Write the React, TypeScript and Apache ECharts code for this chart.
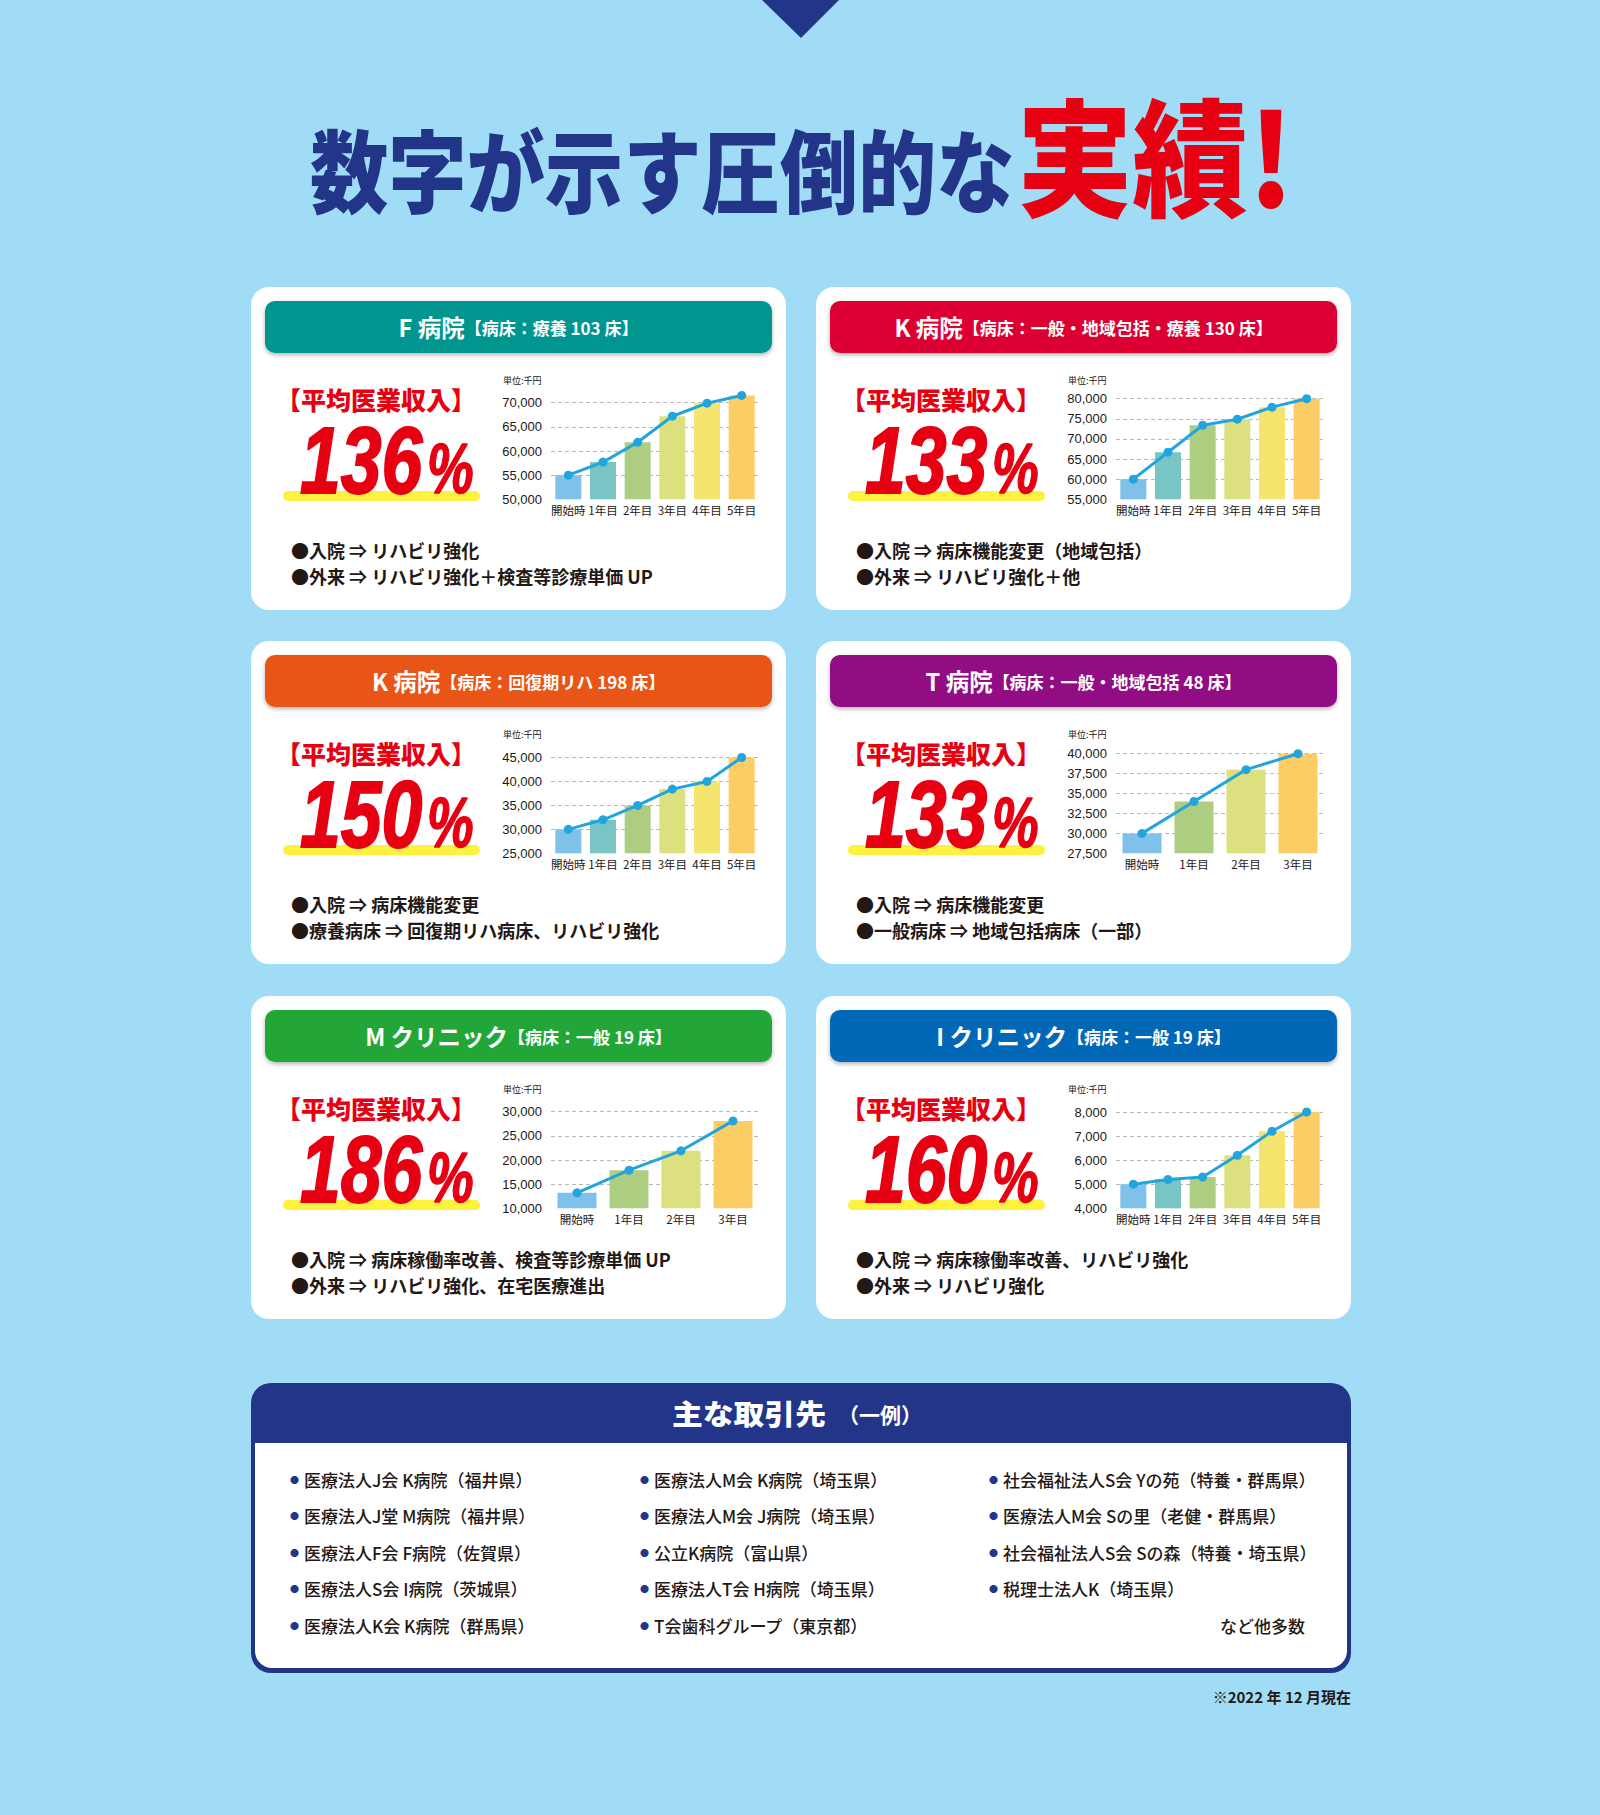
import React, { useEffect, useRef } from "react";
import * as echarts from "echarts";

// ---------- DATA ----------
const categories6 = ["開始時", "1年目", "2年目", "3年目", "4年目", "5年目"];
const categories4 = ["開始時", "1年目", "2年目", "3年目"];

const fHospitalRevenue = [55000, 57700, 61800, 67200, 69900, 71500];
const kHospitalRevenue = [60000, 66700, 73400, 74900, 77900, 80000];
const kRehabRevenue = [30000, 32000, 35000, 38400, 40000, 45000];
const tHospitalRevenue = [30000, 34000, 38000, 40000];
const mClinicRevenue = [13200, 17900, 21900, 28100];
const iClinicRevenue = [5000, 5200, 5300, 6200, 7200, 8000];

const yMins = [50000, 55000, 25000, 27500, 10000, 4000];
const yMaxs = [72000, 80000, 45000, 40000, 30000, 8000];
const yIntervals = [5000, 5000, 5000, 2500, 5000, 1000];

const hospitalNames = ["F 病院", "K 病院", "K 病院", "T 病院", "M クリニック", "I クリニック"];
const bedLabels = [
  "【病床：療養 103 床】",
  "【病床：一般・地域包括・療養 130 床】",
  "【病床：回復期リハ 198 床】",
  "【病床：一般・地域包括 48 床】",
  "【病床：一般 19 床】",
  "【病床：一般 19 床】",
];
const percentages = ["136", "133", "150", "133", "186", "160"];
const notes = [
  ["●入院 ⇒ リハビリ強化", "●外来 ⇒ リハビリ強化＋検査等診療単価 UP"],
  ["●入院 ⇒ 病床機能変更（地域包括）", "●外来 ⇒ リハビリ強化＋他"],
  ["●入院 ⇒ 病床機能変更", "●療養病床 ⇒ 回復期リハ病床、リハビリ強化"],
  ["●入院 ⇒ 病床機能変更", "●一般病床 ⇒ 地域包括病床（一部）"],
  ["●入院 ⇒ 病床稼働率改善、検査等診療単価 UP", "●外来 ⇒ リハビリ強化、在宅医療進出"],
  ["●入院 ⇒ 病床稼働率改善、リハビリ強化", "●外来 ⇒ リハビリ強化"],
];

const partnersCol1 = [
  "医療法人J会 K病院（福井県）",
  "医療法人J堂 M病院（福井県）",
  "医療法人F会 F病院（佐賀県）",
  "医療法人S会 I病院（茨城県）",
  "医療法人K会 K病院（群馬県）",
];
const partnersCol2 = [
  "医療法人M会 K病院（埼玉県）",
  "医療法人M会 J病院（埼玉県）",
  "公立K病院（富山県）",
  "医療法人T会 H病院（埼玉県）",
  "T会歯科グループ（東京都）",
];
const partnersCol3 = [
  "社会福祉法人S会 Yの苑（特養・群馬県）",
  "医療法人M会 Sの里（老健・群馬県）",
  "社会福祉法人S会 Sの森（特養・埼玉県）",
  "税理士法人K（埼玉県）",
];

// ---------- STYLE / LAYOUT ----------
const BG = "#A0DCF5";
const NAVY = "#233588";
const RED = "#E60012";
const DARK = "#231815";
const LINE = "#22A5DF";
const FONT_JP = '"Noto Sans CJK JP", "Noto Sans", sans-serif';
const FONT_NUM = '"Liberation Sans", Arial, sans-serif';

const headerColors = ["#00958F", "#DC0032", "#E95513", "#920783", "#22A637", "#0068B7"];
const barColors6 = ["#80C1EA", "#79C4C5", "#ADCE81", "#DCE07E", "#F3E56D", "#FCCD64"];
const barColors4 = ["#80C1EA", "#ADCE81", "#DCE07E", "#FCCD64"];

const seriesData = [
  fHospitalRevenue,
  kHospitalRevenue,
  kRehabRevenue,
  tHospitalRevenue,
  mClinicRevenue,
  iClinicRevenue,
];
const seriesCats = [categories6, categories6, categories6, categories4, categories4, categories6];

const cards = [
  { x: 251, y: 287 },
  { x: 816, y: 287 },
  { x: 251, y: 641 },
  { x: 816, y: 641 },
  { x: 251, y: 996 },
  { x: 816, y: 996 },
];
const CARD_W = 535;
const CARD_H = 323;
const topTickDy = [115.7, 111.7, 116.5, 112.7, 115.7, 116];
const BOTTOM_DY = 212.3;

function buildOption() {
  const grids: any[] = [];
  const xAxes: any[] = [];
  const yAxes: any[] = [];
  const series: any[] = [];
  const graphics: any[] = [];

  graphics.push({
    type: "polygon",
    z: 1,
    shape: { points: [[762, 0], [839, 0], [801, 38]] },
    style: { fill: NAVY },
  });
  graphics.push({
    type: "text",
    z: 1,
    x: 310,
    y: 167,
    scaleX: 0.87,
    style: {
      text: "数字が示す圧倒的な",
      fill: NAVY,
      fontSize: 90,
      fontWeight: 900,
      fontFamily: FONT_JP,
      align: "left",
      verticalAlign: "middle",
    },
  });
  graphics.push({
    type: "text",
    z: 1,
    x: 1017,
    y: 152,
    scaleX: 0.91,
    style: {
      text: "実績!",
      fill: RED,
      fontSize: 127,
      fontWeight: 900,
      fontFamily: FONT_JP,
      align: "left",
      verticalAlign: "middle",
    },
  });

  cards.forEach((c, i) => {
    const cats = seriesCats[i];
    const colors = cats.length === 6 ? barColors6 : barColors4;
    const min = yMins[i];
    const max = yMaxs[i];
    const interval = yIntervals[i];
    const topTick = Math.floor((max - min) / interval) * interval + min;
    const aligned = topTick === max;
    const bottomY = c.y + BOTTOM_DY;
    const pxPerUnit = (BOTTOM_DY - topTickDy[i]) / (topTick - min);
    const topY = bottomY - (max - min) * pxPerUnit;

    grids.push({ left: c.x + 300, width: 208, top: topY, height: bottomY - topY });
    xAxes.push({
      type: "category",
      gridIndex: i,
      data: cats,
      axisLine: { show: false },
      axisTick: { show: false },
      axisLabel: {
        interval: 0,
        fontSize: 11.5,
        color: DARK,
        margin: 5,
        fontFamily: FONT_JP,
      },
    });
    yAxes.push({
      type: "value",
      gridIndex: i,
      min,
      max,
      interval,
      axisLine: { show: false },
      axisTick: { show: false },
      axisLabel: {
        fontSize: 13,
        color: DARK,
        margin: 9,
        fontFamily: FONT_NUM,
        showMaxLabel: aligned,
        formatter: (v: number) => v.toLocaleString("en-US"),
      },
      splitLine: {
        show: true,
        showMinLine: false,
        showMaxLine: aligned,
        lineStyle: { type: [4, 3], color: "#B8B8B8", width: 1 },
      },
    });
    series.push({
      type: "bar",
      xAxisIndex: i,
      yAxisIndex: i,
      barWidth: "75%",
      data: seriesData[i].map((v, k) => ({ value: v, itemStyle: { color: colors[k] } })),
      z: 2,
    });
    series.push({
      type: "line",
      xAxisIndex: i,
      yAxisIndex: i,
      data: seriesData[i],
      symbol: "circle",
      symbolSize: 9,
      lineStyle: { color: LINE, width: 3 },
      itemStyle: { color: LINE },
      z: 3,
    });

    graphics.push({
      type: "rect",
      z: 0,
      shape: { x: c.x, y: c.y, width: CARD_W, height: CARD_H, r: 18 },
      style: { fill: "#FFFFFF" },
    });
    graphics.push({
      type: "rect",
      z: 1,
      shape: { x: c.x + 14, y: c.y + 14, width: 507, height: 52, r: 10 },
      style: {
        fill: headerColors[i],
        shadowBlur: 4,
        shadowOffsetY: 2,
        shadowColor: "rgba(0,0,0,0.3)",
      },
    });
    graphics.push({
      type: "text",
      z: 2,
      x: c.x + 267.5,
      y: c.y + 40,
      style: {
        text: `{a|${hospitalNames[i]}}{b|${bedLabels[i]}}`,
        align: "center",
        verticalAlign: "middle",
        rich: {
          a: { fontSize: 23.5, fontWeight: "bold", fill: "#FFFFFF", fontFamily: FONT_JP },
          b: { fontSize: 17, fontWeight: "bold", fill: "#FFFFFF", fontFamily: FONT_JP },
        },
      },
    });
    graphics.push({
      type: "text",
      z: 2,
      x: c.x + 25,
      y: c.y + 112,
      style: {
        text: "【平均医業収入】",
        fill: RED,
        fontSize: 25,
        fontWeight: 900,
        fontFamily: FONT_JP,
        align: "left",
        verticalAlign: "middle",
      },
    });
    graphics.push({
      type: "rect",
      z: 1,
      shape: { x: c.x + 32, y: c.y + 204, width: 197, height: 10, r: 5 },
      style: { fill: "#FFF23F" },
    });
    graphics.push({
      type: "text",
      z: 2,
      x: c.x + 49,
      y: c.y + 174,
      scaleX: 0.78,
      style: {
        text: percentages[i],
        fill: RED,
        stroke: RED,
        lineWidth: 2,
        fontSize: 94,
        fontWeight: "bold",
        fontStyle: "italic",
        fontFamily: FONT_NUM,
        align: "left",
        verticalAlign: "middle",
      },
    });
    graphics.push({
      type: "text",
      z: 2,
      x: c.x + 176,
      y: c.y + 181.5,
      scaleX: 0.75,
      style: {
        text: "%",
        fill: RED,
        stroke: RED,
        lineWidth: 1.5,
        fontSize: 70,
        fontWeight: "bold",
        fontStyle: "italic",
        fontFamily: FONT_NUM,
        align: "left",
        verticalAlign: "middle",
      },
    });
    graphics.push({
      type: "text",
      z: 2,
      x: c.x + 252,
      y: c.y + 93.5,
      style: {
        text: "単位:千円",
        fill: DARK,
        fontSize: 9,
        fontFamily: FONT_JP,
        align: "left",
        verticalAlign: "middle",
      },
    });
    notes[i].forEach((t, k) => {
      graphics.push({
        type: "text",
        z: 2,
        x: c.x + 40,
        y: c.y + 263 + k * 25.5,
        style: {
          text: t,
          fill: DARK,
          fontSize: 18,
          fontWeight: "bold",
          fontFamily: FONT_JP,
          align: "left",
          verticalAlign: "middle",
        },
      });
    });
  });

  // partner box
  graphics.push({
    type: "rect",
    z: 0,
    shape: { x: 251, y: 1383, width: 1100, height: 290, r: 20 },
    style: { fill: NAVY },
  });
  graphics.push({
    type: "rect",
    z: 1,
    shape: { x: 255, y: 1443, width: 1092, height: 225, r: [0, 0, 17, 17] },
    style: { fill: "#FFFFFF" },
  });
  graphics.push({
    type: "text",
    z: 2,
    x: 672,
    y: 1413,
    scaleX: 1.1,
    style: {
      text: "主な取引先",
      fill: "#FFFFFF",
      fontSize: 28,
      fontWeight: 900,
      fontFamily: FONT_JP,
      align: "left",
      verticalAlign: "middle",
    },
  });
  graphics.push({
    type: "text",
    z: 2,
    x: 838,
    y: 1414,
    style: {
      text: "（一例）",
      fill: "#FFFFFF",
      fontSize: 21,
      fontWeight: "bold",
      fontFamily: FONT_JP,
      align: "left",
      verticalAlign: "middle",
    },
  });
  const cols = [partnersCol1, partnersCol2, partnersCol3];
  const colX = [290, 640, 989];
  cols.forEach((col, ci) => {
    col.forEach((t, ri) => {
      graphics.push({
        type: "text",
        z: 2,
        x: colX[ci],
        y: 1479 + ri * 36.5,
        style: {
          text: `{d|●}{t|${t}}`,
          align: "left",
          verticalAlign: "middle",
          rich: {
            d: { fontSize: 9, fill: NAVY, fontFamily: FONT_JP, padding: [0, 5, 0, 0] },
            t: { fontSize: 17, fontWeight: 500, fill: DARK, fontFamily: FONT_JP },
          },
        },
      });
    });
  });
  graphics.push({
    type: "text",
    z: 2,
    x: 1305,
    y: 1625,
    style: {
      text: "など他多数",
      fill: DARK,
      fontSize: 17,
      fontWeight: 500,
      fontFamily: FONT_JP,
      align: "right",
      verticalAlign: "middle",
    },
  });
  graphics.push({
    type: "text",
    z: 2,
    x: 1351,
    y: 1696,
    style: {
      text: "※2022 年 12 月現在",
      fill: DARK,
      fontSize: 15,
      fontWeight: "bold",
      fontFamily: FONT_JP,
      align: "right",
      verticalAlign: "middle",
    },
  });

  return {
    animation: false,
    backgroundColor: BG,
    grid: grids,
    xAxis: xAxes,
    yAxis: yAxes,
    series,
    graphic: { elements: graphics },
  };
}

export default function App() {
  const ref = useRef<HTMLDivElement>(null);
  useEffect(() => {
    if (!ref.current) return;
    const chart = echarts.init(ref.current, null, { renderer: "svg", width: 1600, height: 1815 });
    chart.setOption(buildOption() as any);
    return () => chart.dispose();
  }, []);
  return (
    <div style={{ position: "absolute", left: 0, top: 0, width: 1600, height: 1815, background: BG }}>
      <div ref={ref} style={{ width: 1600, height: 1815 }} />
    </div>
  );
}
